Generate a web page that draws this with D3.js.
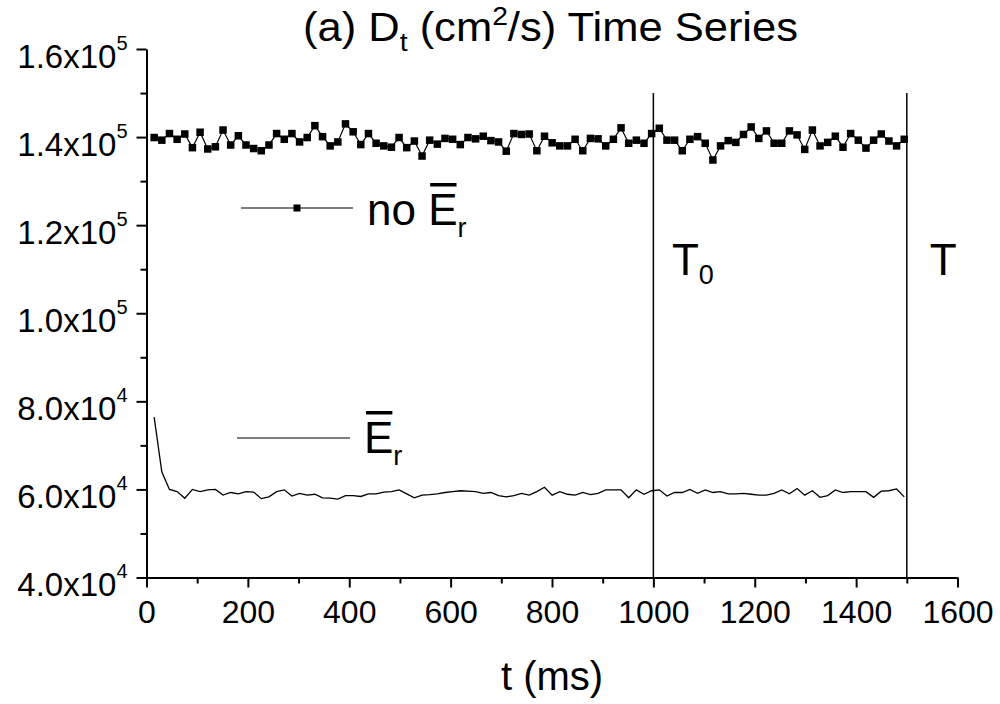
<!DOCTYPE html>
<html>
<head>
<meta charset="utf-8">
<script src="https://cdn.jsdelivr.net/npm/d3@7"></script>
<style>
  body { margin: 0; background: #fff; }
  svg { display: block; font-family: "Liberation Sans", Arial, sans-serif; }
</style>
</head>
<body>
<div class="canvas"></div>
<script>
// sample times, one every ~15.1 ms
const times = d3.range(1, 100).map((k) => k * 15.1);

// D_t without mean radial field (square markers)
const noEr = [
  139900, 139300, 140800, 139500, 140700, 137600, 141100, 137300, 137800, 141600,
  138200, 140300, 138200, 137400, 136900, 138200, 140800, 139500, 140800, 138900,
  139900, 142600, 140100, 138000, 138900, 143000, 141200, 138300, 140800, 138600,
  138000, 137700, 139900, 137600, 139100, 135700, 139300, 138400, 139700, 139500,
  138300, 139900, 139600, 140200, 139200, 138900, 136800, 140800, 140600, 140700,
  136900, 140200, 138700, 138000, 138000, 139500, 136900, 139700, 139600, 138000,
  139500, 142100, 138600, 139300, 138600, 140800, 142000, 139300, 139300, 136900,
  139500, 140100, 138600, 134800, 138000, 139200, 138800, 140600, 142300, 139700,
  141400, 138600, 138600, 141400, 140500, 137200, 141600, 138000, 138800, 140200,
  137700, 140800, 139300, 137500, 139300, 140700, 139100, 138000, 139500
];

// D_t with mean radial field (plain line)
const withEr = [
  76400, 64000, 60000, 59500, 58000, 60000, 59500, 59900, 60000, 58700,
  59300, 59000, 59500, 59400, 57900, 58300, 59500, 59900, 58500, 59100,
  58700, 58900, 58100, 58000, 57800, 58600, 58600, 58400, 59000, 59000,
  59400, 59500, 59900, 59000, 58100, 58700, 58800, 59000, 59300, 59500,
  59700, 59600, 59500, 59100, 59300, 58600, 58300, 58600, 59100, 58700,
  59500, 60500, 58700, 59500, 58900, 58700, 59300, 58800, 59100, 59900,
  59900, 59900, 58100, 59900, 58900, 59700, 59900, 58500, 59300, 59300,
  60000, 59100, 59900, 59300, 59500, 59000, 59000, 59100, 58900, 58700,
  58700, 59100, 59900, 59000, 60200, 58700, 59700, 58200, 58600, 59900,
  59300, 59500, 59500, 59500, 58200, 59600, 59700, 60100, 58300
];

const xTicks = [0, 200, 400, 600, 800, 1000, 1200, 1400, 1600];
const xMinorTicks = [100, 300, 500, 700, 900, 1100, 1300, 1500];
const yTicks = [40000, 60000, 80000, 100000, 120000, 140000, 160000];
const yMantissa = ["4.0", "6.0", "8.0", "1.0", "1.2", "1.4", "1.6"];
const yExponent = ["4", "4", "4", "5", "5", "5", "5"];
const yMinorTicks = [50000, 70000, 90000, 110000, 130000, 150000];

const markTimes = [1000, 1500];
const markNames = ["T", "T"];
const markSubs = ["0", ""];
const markTop = 150000;

setup();

function setup() {
  const W = 1000, H = 704;
  const margin = { top: 49, right: 42.5, bottom: 126.5, left: 146.5 };
  const width = W - margin.left - margin.right;
  const height = H - margin.top - margin.bottom;

  const x = d3.scaleLinear().domain([0, 1600]).range([0, width]);
  const y = d3.scaleLinear().domain([40000, 160000]).range([height, 0]);

  const svg = d3
    .select(".canvas")
    .append("svg")
    .attr("width", W)
    .attr("height", H);

  svg.append("rect").attr("width", W).attr("height", H).attr("fill", "#fff");

  const chart = svg
    .append("g")
    .attr("transform", `translate(${margin.left}, ${margin.top})`);

  // axes
  const xAxis = chart
    .append("g")
    .attr("transform", `translate(0, ${height})`)
    .call(
      d3.axisBottom(x).tickValues(xTicks).tickSize(10).tickSizeOuter(0).tickFormat(d3.format("d"))
    );
  xAxis
    .selectAll("text")
    .attr("y", 45.5)
    .attr("dy", 0)
    .style("font-size", "32px")
    .style("font-family", "'Liberation Sans', Arial, sans-serif")
    .attr("fill", "#000");

  chart
    .append("g")
    .attr("transform", `translate(0, ${height})`)
    .call(d3.axisBottom(x).tickValues(xMinorTicks).tickSize(6).tickFormat(""))
    .call((g) => g.select(".domain").remove());

  const yAxis = chart
    .append("g")
    .call(d3.axisLeft(y).tickValues(yTicks).tickSize(10).tickSizeOuter(0).tickFormat(""));
  yAxis.selectAll(".tick").each(function (d, i) {
    const t = d3
      .select(this)
      .append("text")
      .attr("x", -19)
      .attr("y", 18)
      .attr("text-anchor", "end")
      .attr("fill", "#000")
      .style("font-size", "33px")
      .style("font-family", "'Liberation Sans', Arial, sans-serif");
    t.append("tspan").text(yMantissa[i] + "x10");
    t.append("tspan").attr("dy", -18).style("font-size", "20px").text(yExponent[i]);
  });

  chart
    .append("g")
    .call(d3.axisLeft(y).tickValues(yMinorTicks).tickSize(6).tickFormat(""))
    .call((g) => g.select(".domain").remove());

  chart.selectAll(".domain, .tick line").attr("stroke", "#000").attr("stroke-width", 2);

  // T0 / T markers
  chart
    .selectAll(".mark")
    .data(markTimes)
    .enter()
    .append("line")
    .attr("class", "mark")
    .attr("x1", (d) => x(d))
    .attr("x2", (d) => x(d))
    .attr("y1", y(markTop))
    .attr("y2", height)
    .attr("stroke", "#000")
    .attr("stroke-width", 1.5);

  const labelDx = [18.5, 23];
  markTimes.forEach((d, i) => {
    const t = chart
      .append("text")
      .attr("x", x(d) + labelDx[i])
      .attr("y", 275 - margin.top)
      .style("font-size", "44px")
      .text(markNames[i]);
    if (markSubs[i]) t.append("tspan").attr("dy", 9).style("font-size", "27px").text(markSubs[i]);
  });

  // series
  const line = d3
    .line()
    .x((d, i) => x(times[i]))
    .y((d) => y(d));

  chart
    .append("path")
    .datum(withEr)
    .attr("fill", "none")
    .attr("stroke", "#000")
    .attr("stroke-width", 1.3)
    .attr("d", line);

  chart
    .append("path")
    .datum(noEr)
    .attr("fill", "none")
    .attr("stroke", "#000")
    .attr("stroke-width", 1.2)
    .attr("d", line);

  const ms = 7.5;
  chart
    .selectAll(".sq")
    .data(noEr)
    .enter()
    .append("rect")
    .attr("class", "sq")
    .attr("x", (d, i) => x(times[i]) - ms / 2)
    .attr("y", (d) => y(d) - ms / 2)
    .attr("width", ms)
    .attr("height", ms)
    .attr("fill", "#000");

  // legend
  const leg = svg.append("g");
  leg.append("line").attr("x1", 241).attr("x2", 353).attr("y1", 208).attr("y2", 208)
    .attr("stroke", "#000").attr("stroke-width", 1);
  leg.append("rect").attr("x", 297 - 3.5).attr("y", 208 - 3.5).attr("width", 7).attr("height", 7).attr("fill", "#000");
  leg.append("line").attr("x1", 237).attr("x2", 350).attr("y1", 438).attr("y2", 438)
    .attr("stroke", "#000").attr("stroke-width", 1);

  const legendText = (x0, y0, prefix) => {
    const t = leg.append("text").attr("x", x0).attr("y", y0).style("font-size", "44px");
    t.append("tspan").text(prefix + "E");
    t.append("tspan").attr("dy", 12).style("font-size", "27px").text("r");
    const n = prefix.length;
    const a = t.node().getStartPositionOfChar(n).x;
    const b = t.node().getEndPositionOfChar(n).x;
    leg.append("rect").attr("x", a + 2).attr("width", b - a - 3).attr("y", y0 - 42).attr("height", 3.5).attr("fill", "#000");
  };
  legendText(367, 225, "no ");
  legendText(364, 453, "");

  // titles
  const title = svg
    .append("text")
    .attr("x", 303)
    .attr("y", 41)
    .attr("textLength", 495)
    .attr("lengthAdjust", "spacingAndGlyphs")
    .style("font-size", "40px");
  title.append("tspan").text("(a) D");
  title.append("tspan").attr("dy", 10).style("font-size", "26px").text("t");
  title.append("tspan").attr("dy", -10).text(" (cm");
  title.append("tspan").attr("dy", -16).style("font-size", "26px").text("2");
  title.append("tspan").attr("dy", 16).text("/s) Time Series");

  svg
    .append("text")
    .attr("x", margin.left + width / 2)
    .attr("y", 690)
    .attr("text-anchor", "middle")
    .style("font-size", "40px")
    .text("t (ms)");
}
</script>
</body>
</html>
